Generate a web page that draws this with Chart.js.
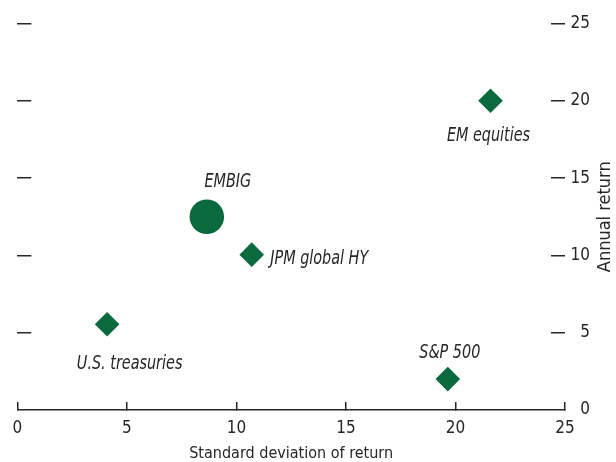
<!DOCTYPE html>
<html>
<head>
<meta charset="utf-8">
<script src="https://cdn.jsdelivr.net/npm/chart.js@4/dist/chart.umd.min.js"></script>
<style>
  body { margin: 0; background: #fff; }
  #wrap { width: 616px; height: 462px; }
</style>
</head>
<body>
<div id="wrap"><canvas id="myChart" width="616" height="462"></canvas></div>
<script>
// data
var names = ['U.S. treasuries', 'EMBIG', 'JPM global HY', 'S&P 500', 'EM equities'];
var stdDev = [4.1, 8.65, 10.7, 19.65, 21.6];        // x: standard deviation of return
var annualReturn = [5.55, 12.5, 10.05, 2.0, 20.0];  // y: annual return
var xTicks = [0, 5, 10, 15, 20, 25];
var yTicks = [0, 5, 10, 15, 20, 25];

var green = '#0a6a3e';
var ink = '#262626';
var fontFam = '"Liberation Sans Narrow", "DejaVu Sans Condensed", sans-serif';

// where each label sits relative to its marker (dy is to the text baseline)
var labelPlace = {
    'U.S. treasuries': { dx: 22.5, dy: 45, align: 'center' },
    'EMBIG': { dx: 21, dy: -29.5, align: 'center' },
    'JPM global HY': { dx: 18.5, dy: 9, align: 'left' },
    'S&P 500': { dx: 2, dy: -21, align: 'center' },
    'EM equities': { dx: -2, dy: 40, align: 'center' }
};

var pointLabels = {
    id: 'pointLabels',
    afterDatasetsDraw: function (chart) {
        var c = chart.ctx;
        var meta = chart.getDatasetMeta(0);
        c.save();
        c.font = 'italic 16px ' + fontFam;
        c.fillStyle = ink;
        c.textBaseline = 'alphabetic';
        meta.data.forEach(function (pt, i) {
            var p = labelPlace[names[i]];
            c.save();
            c.textAlign = p.align;
            c.translate(pt.x + p.dx, pt.y + p.dy);
            c.scale(1, 1.25); // taller, condensed look
            c.fillText(names[i], 0, 0);
            c.restore();
        });
        // right axis title, reading bottom to top
        var a = chart.chartArea;
        c.font = '18px ' + fontFam;
        c.textAlign = 'center';
        c.translate(610, (a.top + a.bottom) / 2);
        c.rotate(-Math.PI / 2);
        c.fillText('Annual return', 0, 0);
        c.restore();
    }
};

// drop the label overflow padding so layout.padding decides the plot box
function noEdgePadding(s) {
    s.paddingLeft = 0;
    s.paddingRight = 0;
    s.paddingTop = 0;
    s.paddingBottom = 0;
}

var ctx = document.getElementById('myChart').getContext('2d');

var myChart = new Chart(ctx, {
    type: 'scatter',
    data: {
        labels: names,
        datasets: [{
            label: 'Assets',
            data: stdDev.map(function (x, i) { return { x: x, y: annualReturn[i] }; }),
            backgroundColor: green,
            borderColor: green,
            borderWidth: 0,
            pointStyle: function (c) { return names[c.dataIndex] === 'EMBIG' ? 'circle' : 'rectRot'; },
            pointRadius: function (c) { return names[c.dataIndex] === 'EMBIG' ? 17.3 : 12.3; },
            pointHoverRadius: function (c) { return names[c.dataIndex] === 'EMBIG' ? 17.3 : 12.3; }
        }]
    },
    plugins: [pointLabels],
    options: {
        responsive: false,
        animation: false,
        layout: { padding: { left: 12, top: 23.5, right: 26, bottom: 0 } },
        plugins: {
            legend: { display: false },
            tooltip: { enabled: false }
        },
        scales: {
            x: {
                type: 'linear',
                position: 'bottom',
                min: 0,
                max: 25,
                afterBuildTicks: function (s) { s.ticks = xTicks.map(function (v) { return { value: v }; }); },
                afterFit: function (s) { s.height = 52; noEdgePadding(s); },
                grid: { drawOnChartArea: false, tickLength: -8, color: ink, lineWidth: 1.5 },
                border: { display: true, color: ink, width: 1.5 },
                ticks: { padding: 16, color: ink, font: { family: fontFam, size: 17 } },
                title: {
                    display: true,
                    text: 'Standard deviation of return',
                    color: ink,
                    font: { family: fontFam, size: 16, lineHeight: 1 },
                    padding: { top: 0, bottom: 0 }
                }
            },
            y: {
                type: 'linear',
                position: 'left',
                min: 0,
                max: 25,
                afterBuildTicks: function (s) { s.ticks = yTicks.slice(1).map(function (v) { return { value: v }; }); },
                afterFit: function (s) { s.width = 0; noEdgePadding(s); },
                grid: { drawOnChartArea: false, tickLength: -14, color: ink, lineWidth: 1.5 },
                border: { display: false },
                ticks: { display: false }
            },
            y2: {
                type: 'linear',
                position: 'right',
                min: 0,
                max: 25,
                afterBuildTicks: function (s) { s.ticks = yTicks.map(function (v) { return { value: v }; }); },
                afterFit: function (s) { s.width = 25; noEdgePadding(s); },
                grid: {
                    drawOnChartArea: false,
                    tickLength: -14,
                    lineWidth: 1.5,
                    color: function (c) { return c.tick && c.tick.value === 0 ? 'rgba(0,0,0,0)' : ink; }
                },
                border: { display: false },
                ticks: { padding: 21, crossAlign: 'far', color: ink, font: { family: fontFam, size: 17 } }
            }
        }
    }
});
</script>
</body>
</html>
